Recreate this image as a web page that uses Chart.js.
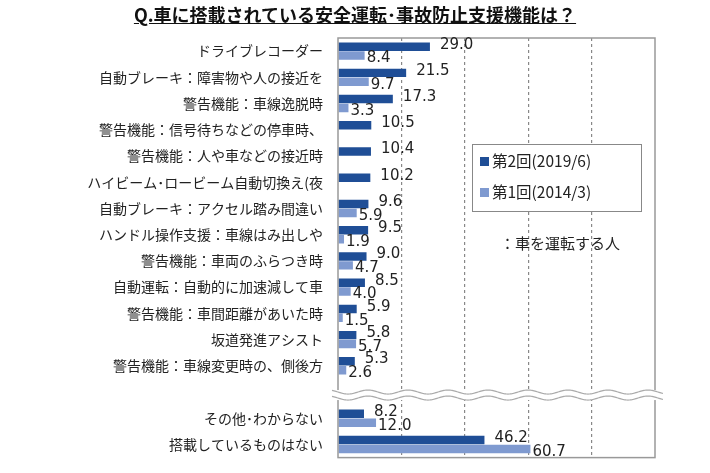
<!DOCTYPE html>
<html><head><meta charset="utf-8">
<script src="https://cdn.jsdelivr.net/npm/chart.js@4/dist/chart.umd.min.js"></script>
<style>
body{margin:0;background:#fff;font-family:"Noto Sans CJK JP",sans-serif;}
#wrap{position:relative;width:710px;height:473px;}
#title{position:absolute;left:0;width:710px;top:1px;text-align:center;font-weight:bold;font-size:18px;color:#111;}
#title span{text-decoration:underline;}
#legend{position:absolute;left:472px;top:144px;width:168px;height:66px;border:1px solid #888;background:#fff;font-size:15.5px;color:#222;}
#legend div{position:absolute;left:7px;}
#legend i{display:inline-block;width:9px;height:9px;margin-right:3px;vertical-align:1px;}
#note{position:absolute;left:500px;top:232px;font-size:15px;color:#222;}
</style></head><body>
<div id="wrap">
<canvas id="c" width="710" height="473"></canvas>
<div id="title"><span>Q.車に搭載されている安全運転･事故防止支援機能は？</span></div>
<div id="legend"><div style="top:4px"><i style="background:#1f4e96"></i>第2回(2019/6)</div><div style="top:35px"><i style="background:#7f9ad0"></i>第1回(2014/3)</div></div>
<div id="note">：車を運転する人</div>
</div>
<script>
const categories=["ドライブレコーダー","自動ブレーキ：障害物や人の接近を","警告機能：車線逸脱時","警告機能：信号待ちなどの停車時、","警告機能：人や車などの接近時","ハイビーム･ロービーム自動切換え(夜","自動ブレーキ：アクセル踏み間違い","ハンドル操作支援：車線はみ出しや","警告機能：車両のふらつき時","自動運転：自動的に加速減して車","警告機能：車間距離があいた時","坂道発進アシスト","警告機能：車線変更時の、側後方","","その他･わからない","搭載しているものはない"];
const series2019=[29.0,21.5,17.3,10.5,10.4,10.2,9.6,9.5,9.0,8.5,5.9,5.8,5.3,null,8.2,46.2];
const series2014=[8.4,9.7,3.3,null,null,null,5.9,1.9,4.7,4.0,1.5,5.7,2.6,null,12.0,60.7];
const xTicks=[0,20,40,60,80,100];
const BREAK_INDEX=13;

const extras={id:'extras',
 afterDatasetsDraw(ch){
  const c=ch.ctx,a=ch.chartArea,y=ch.scales.y;
  c.save();
  c.strokeStyle='#999';c.lineWidth=1.5;c.strokeRect(a.left,a.top,a.right-a.left,a.bottom-a.top);
  c.font='15px "DejaVu Sans",sans-serif';c.fillStyle='#222';c.textBaseline='middle';c.textAlign='left';
  ch.data.datasets.forEach((ds,di)=>{
    ch.getDatasetMeta(di).data.forEach((el,i)=>{
      const v=ds.data[i]; if(v==null)return;
      c.fillText(v.toFixed(1), el.x+(di===0?10:2), el.y+(di===0?-2:3));
    });
  });
  const yb=y.getPixelForValue(BREAK_INDEX)+3;
  c.fillStyle='#fff';c.fillRect(a.left-6,yb-5,a.right-a.left+14,10);
  c.strokeStyle='#aaa';c.lineWidth=1.2;
  [-3,3].forEach(off=>{c.beginPath();
   for(let x=a.left-6;x<=a.right+8;x++){const yy=yb+off+2*Math.sin((x-a.left)/40*2*Math.PI);x===a.left-6?c.moveTo(x,yy):c.lineTo(x,yy);}c.stroke();});
  c.restore();
 }};

new Chart(document.getElementById('c'),{
 type:'bar',
 data:{labels:categories,datasets:[
  {label:'第2回(2019/6)',data:series2019,backgroundColor:'#1f4e96',categoryPercentage:0.68,barPercentage:0.95},
  {label:'第1回(2014/3)',data:series2014,backgroundColor:'#7f9ad0',categoryPercentage:0.68,barPercentage:0.95}]},
 options:{indexAxis:'y',responsive:false,animation:false,
  layout:{padding:{top:38,bottom:5,right:55,left:0}},
  plugins:{legend:{display:false},tooltip:{enabled:false}},
  scales:{
   x:{min:0,max:100,afterBuildTicks(s){s.ticks=xTicks.map(v=>({value:v}));},
      ticks:{display:false},border:{display:false,dash:[3,3]},
      grid:{color:ctx=>(ctx.tick&&(ctx.tick.value===0||ctx.tick.value===100))?'rgba(0,0,0,0)':'#888',lineWidth:1.2,tickLength:0}},
   y:{afterFit(s){s.width=338;},border:{display:false},grid:{display:false},
      ticks:{color:'#222',font:{size:14,family:'"Noto Sans CJK JP"'},padding:7,autoSkip:false}}
  }},
 plugins:[extras]
});
</script>
</body></html>
